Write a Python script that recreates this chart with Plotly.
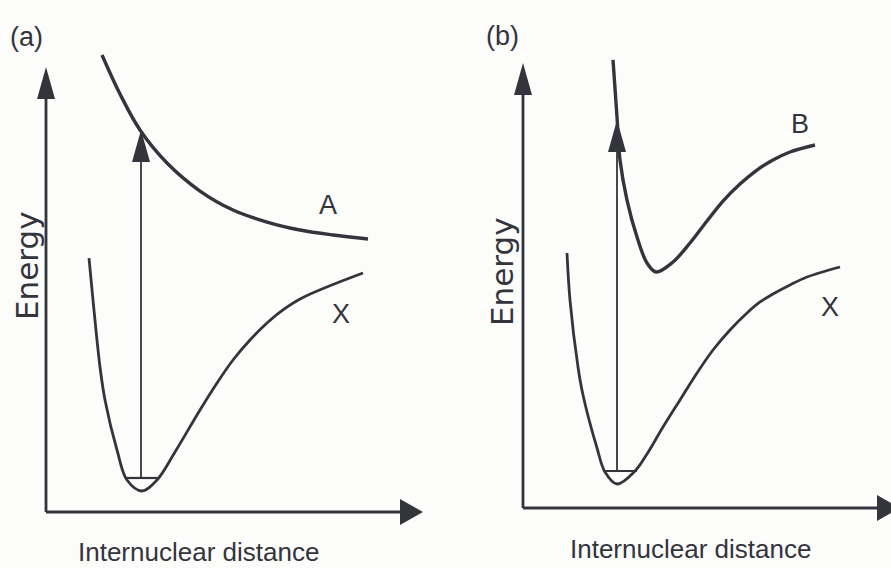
import plotly.graph_objects as go

# ---------------------------------------------------------------------------
# Potential-energy curves, in arbitrary units: r = internuclear distance,
# E = energy, measured from each panel's axis origin.
# ---------------------------------------------------------------------------

# (a) repulsive excited state A above the bound ground state X
a_A_r = [1.40, 1.85, 2.35, 3.025, 3.85, 4.675, 5.525, 6.35, 7.175, 8.05]
a_A_E = [10.156, 9.289, 8.489, 7.756, 7.133, 6.711, 6.444, 6.267, 6.156, 6.067]

a_X_r = [1.075, 1.175, 1.35, 1.475, 1.775, 2.025, 2.40, 2.775, 3.225,
         3.85, 4.275, 4.675, 5.10, 5.525, 5.85, 6.40, 7.925]
a_X_E = [5.644, 4.711, 3.222, 2.489, 1.378, 0.711, 0.467, 0.711, 1.333,
         2.267, 2.867, 3.378, 3.822, 4.20, 4.444, 4.756, 5.311]

a_level_r = [2.025, 2.80]      # lowest vibrational level of X
a_level_E = 0.756
a_transition_r = 2.375         # vertical excitation X -> A
a_transition_top = 8.49

# (b) bound excited state B above the bound ground state X
b_B_r = [2.25, 2.35, 2.425, 2.60, 2.85, 3.10, 3.325, 3.75, 4.175, 4.60,
         5.00, 5.425, 5.85, 6.25, 6.675, 7.30]
b_B_E = [9.956, 8.689, 7.733, 6.844, 6.022, 5.444, 5.244, 5.467, 5.889, 6.378,
         6.822, 7.200, 7.511, 7.733, 7.911, 8.067]

b_X_r = [1.10, 1.175, 1.375, 1.50, 1.85, 2.05, 2.35, 2.80, 3.10, 3.50,
         3.925, 4.35, 4.75, 5.175, 5.60, 5.925, 6.25, 6.675, 7.10, 7.925]
b_X_E = [5.667, 4.622, 3.133, 2.511, 1.333, 0.80, 0.533, 0.822, 1.200, 1.80,
         2.40, 3.00, 3.511, 3.956, 4.333, 4.578, 4.756, 4.956, 5.133, 5.356]

b_level_r = [2.00, 2.85]
b_level_E = 0.822
b_transition_r = 2.35          # vertical excitation X -> B
b_transition_top = 8.62

# axis arrow tips (arbitrary units)
axis_r_tip = 9.425
axis_E_tip = 9.889

# curve labels: (text, r, E)
a_labels = [("A", 7.05, 6.82), ("X", 7.375, 4.40)]
b_labels = [("B", 6.925, 8.53), ("X", 7.675, 4.47)]

# ---------------------------------------------------------------------------
W, H = 891, 568
PX_R = 40.0     # pixels per unit of r
PX_E = 45.0     # pixels per unit of E
INK = "#34343c"
BG = "#fcfcfb"
SANS = "Liberation Sans, Arial, Helvetica, sans-serif"

# pixel position of each panel's origin, and its horizontal extent
panels = {
    "a": dict(origin=(46, 512), span=(0.0, 445.5), xa="x", ya="y"),
    "b": dict(origin=(523, 508), span=(445.5, 891.0), xa="x2", ya="y2"),
}

fig = go.Figure()
shapes = []
annotations = []


def line(xs, ys, panel, width, color=INK, smooth=True):
    p = panels[panel]
    fig.add_trace(go.Scatter(
        x=xs, y=ys, mode="lines", xaxis=p["xa"], yaxis=p["ya"],
        line=dict(color=color, width=width,
                  shape="spline" if smooth else "linear", smoothing=1.0),
        hoverinfo="skip", showlegend=False))


def head(tip_r, tip_E, direction, length, width, panel):
    """Filled arrowhead; length and width given in pixels."""
    p = panels[panel]
    if direction == "up":
        dl, dw = length / PX_E, width / 2 / PX_R
        pts = [(tip_r, tip_E), (tip_r - dw, tip_E - dl), (tip_r + dw, tip_E - dl)]
    else:
        dl, dw = length / PX_R, width / 2 / PX_E
        pts = [(tip_r, tip_E), (tip_r - dl, tip_E + dw), (tip_r - dl, tip_E - dw)]
    path = "M {} {} L {} {} L {} {} Z".format(*[c for pt in pts for c in pt])
    shapes.append(dict(type="path", path=path, xref=p["xa"], yref=p["ya"],
                       fillcolor=INK, line=dict(width=0), layer="above"))
    return dl


def panel_content(key, up_r, up_E, gx_r, gx_E, level_r, level_E,
                  tr_r, tr_top, labels):
    # axes with arrows
    dl = head(0, axis_E_tip, "up", 32, 18, key)
    line([0, 0], [0, axis_E_tip - dl * 0.6], key, 2.8, smooth=False)
    dl = head(axis_r_tip, 0, "right", 23, 26, key)
    line([0, axis_r_tip - dl * 0.6], [0, 0], key, 2.8, smooth=False)
    # potential curves
    line(up_r, up_E, key, 3.4)
    line(gx_r, gx_E, key, 2.8)
    # ground vibrational level and vertical transition
    line(level_r, [level_E, level_E], key, 2.2, smooth=False)
    dl = head(tr_r, tr_top, "up", 32, 18, key)
    line([tr_r, tr_r], [level_E, tr_top - dl * 0.6], key, 1.8, smooth=False)
    p = panels[key]
    for text, r, E in labels:
        annotations.append(dict(text=text, x=r, y=E, xref=p["xa"], yref=p["ya"],
                                showarrow=False, xanchor="center", yanchor="middle",
                                font=dict(family=SANS, size=27, color=INK)))


panel_content("a", a_A_r, a_A_E, a_X_r, a_X_E, a_level_r, a_level_E,
              a_transition_r, a_transition_top, a_labels)
panel_content("b", b_B_r, b_B_E, b_X_r, b_X_E, b_level_r, b_level_E,
              b_transition_r, b_transition_top, b_labels)


# panel letters and axis titles (paper coordinates from pixel positions)
def px(xp, yp):
    return xp / W, 1 - yp / H


for text, (xp, yp), angle, fam, size in [
    ("(a)", (26, 37), 0, SANS, 27),
    ("(b)", (502, 36), 0, SANS, 27),
    ("Energy", (27, 266), -90, "DejaVu Sans", 31),
    ("Energy", (502, 272), -90, "DejaVu Sans", 31),
    ("Internuclear distance", (198, 552), 0, SANS, 26),
    ("Internuclear distance", (690, 549), 0, SANS, 26),
]:
    x, y = px(xp, yp)
    annotations.append(dict(text=text, x=x, y=y, xref="paper", yref="paper",
                            showarrow=False, xanchor="center", yanchor="middle",
                            textangle=angle,
                            font=dict(family=fam, size=size, color=INK)))

axis_common = dict(visible=False, showgrid=False, zeroline=False, fixedrange=True)
layout_axes = {}
for key, p in panels.items():
    ox, oy = p["origin"]
    x0, x1 = p["span"]
    suffix = "" if key == "a" else "2"
    layout_axes["xaxis" + suffix] = dict(
        axis_common, domain=[x0 / W, x1 / W],
        range=[(x0 - ox) / PX_R, (x1 - ox) / PX_R],
        anchor="y" + suffix)
    layout_axes["yaxis" + suffix] = dict(
        axis_common, domain=[0, 1],
        range=[(oy - H) / PX_E, oy / PX_E],
        anchor="x" + suffix)

fig.update_layout(
    width=W, height=H,
    margin=dict(l=0, r=0, t=0, b=0),
    paper_bgcolor=BG, plot_bgcolor=BG,
    shapes=shapes, annotations=annotations,
    showlegend=False,
    **layout_axes,
)

fig.write_html("out.html", config={"displayModeBar": False})
